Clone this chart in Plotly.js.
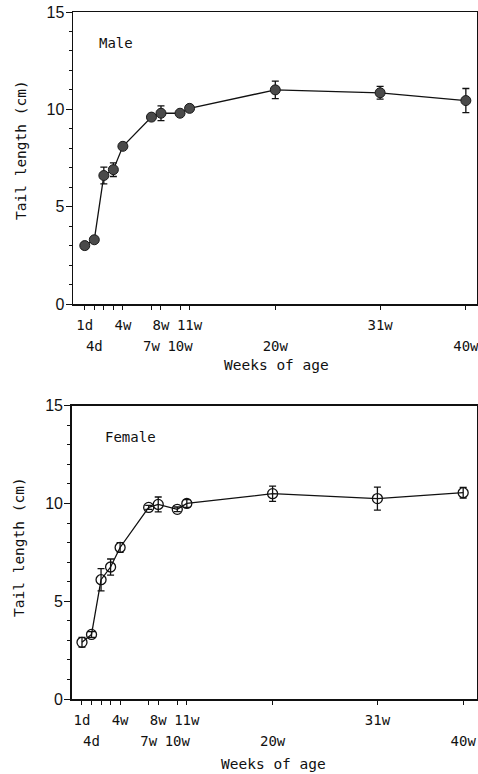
<!DOCTYPE html>
<html>
<head>
<meta charset="utf-8">
<script src="https://cdn.plot.ly/plotly-3.0.1.min.js"></script>
<style>html,body{margin:0;padding:0;background:#fff;}#chart{width:478px;height:774px;}</style>
</head>
<body>
<div id="chart"></div>
<script>
// ---- data ----
const ageLabels = ["1d","4d","2w","3w","4w","7w","8w","10w","11w","20w","31w","40w"];
const ageWeeks  = [0, 1, 2, 3, 4, 7, 8, 10, 11, 20, 31, 40];   // position on the week axis
const labelRow  = [1, 2, 0, 0, 1, 2, 1, 2, 1, 2, 1, 2];          // 0 = no label, 1 = upper row, 2 = lower row
const maleTail   = [3.0, 3.3, 6.6, 6.9, 8.1, 9.6, 9.8, 9.8, 10.05, 11.0, 10.85, 10.45];
const maleErr    = [0.1, 0.1, 0.43, 0.35, 0.12, 0.1, 0.38, 0.1, 0.15, 0.45, 0.33, 0.62];
const femaleTail = [2.9, 3.3, 6.1, 6.75, 7.75, 9.8, 9.95, 9.7, 10.0, 10.5, 10.25, 10.55];
const femaleErr  = [0.25, 0.15, 0.57, 0.41, 0.25, 0.1, 0.38, 0.12, 0.2, 0.39, 0.59, 0.27];
const yTicks = [0, 5, 10, 15];

const mono = "DejaVu Sans Mono";
const sans = "Liberation Sans";

const upperText = ageLabels.map((l, i) => labelRow[i] === 1 ? l : "");
const lowerText = ageLabels.map((l, i) => labelRow[i] === 2 ? l : "");

const W = 478, H = 774;
function fx(px) { return px / W; }
function fy(px) { return (H - px) / H; }

function series(y, err, xa, ya, marker) {
  return {
    x: ageWeeks, y: y, xaxis: xa, yaxis: ya, type: 'scatter', mode: 'lines+markers',
    line: {color: '#111', width: 1.3},
    marker: marker,
    error_y: {type: 'data', array: err, visible: true, color: '#111', thickness: 1.3, width: 3.5},
    cliponaxis: false, hoverinfo: 'skip'
  };
}
// carrier traces (draw nothing) so the lower tick-label row axes exist
function carrier(y, xa, ya) {
  return {x: ageWeeks, y: y, xaxis: xa, yaxis: ya, type: 'scatter', mode: 'none', hoverinfo: 'skip', showlegend: false};
}

const traces = [
  series(maleTail, maleErr, 'x', 'y',
    {symbol: 'circle', size: 10, color: '#4a4a4a', line: {color: '#1a1a1a', width: 1}}),
  series(femaleTail, femaleErr, 'x2', 'y2',
    {symbol: 'circle-open', size: 10, color: '#111', line: {color: '#111', width: 1.3}}),
  carrier(maleTail, 'x3', 'y'),
  carrier(femaleTail, 'x4', 'y2')
];

const tickFont = {family: mono, size: 14, color: '#111'};
const titleFont = {family: mono, size: 14.5, color: '#111'};

function xAxisMain(domain, range, anchor) {
  return {
    domain: domain, range: range, anchor: anchor,
    tickmode: 'array', tickvals: ageWeeks, ticktext: upperText,
    ticks: 'outside', ticklen: 4, tickwidth: 1, tickcolor: '#111',
    showline: true, linecolor: '#111', linewidth: 1.5, mirror: true,
    showgrid: false, zeroline: false,
    tickfont: tickFont, ticklabelstandoff: 4, ticklabeloverflow: 'allow'
  };
}
function xAxisLower(domain, range, anchor, overlay) {
  return {
    domain: domain, range: range, anchor: anchor, overlaying: overlay,
    tickmode: 'array', tickvals: ageWeeks, ticktext: lowerText,
    ticks: '', showline: false, showgrid: false, zeroline: false,
    tickfont: tickFont, ticklabelstandoff: 32, ticklabeloverflow: 'allow'
  };
}
function yAxis(domain, anchor) {
  return {
    domain: domain, range: [0, 15], anchor: anchor,
    tickmode: 'array', tickvals: yTicks,
    ticks: 'outside', ticklen: 6, tickwidth: 1, tickcolor: '#111',
    minor: {dtick: 1, ticks: 'outside', ticklen: 3, tickwidth: 1, tickcolor: '#111', showgrid: false},
    showline: true, linecolor: '#111', linewidth: 1.5, mirror: true,
    showgrid: false, zeroline: false,
    tickfont: {family: sans, size: 16, color: '#111'}, ticklabelstandoff: -2
  };
}

function label(text, xp, yp, angle) {
  return {text: text, textangle: angle || 0, xref: 'paper', yref: 'paper', x: fx(xp), y: fy(yp),
          xanchor: 'center', yanchor: 'middle', showarrow: false, font: titleFont};
}

const layout = {
  width: W, height: H,
  margin: {l: 0, r: 0, t: 0, b: 0},
  paper_bgcolor: '#fff', plot_bgcolor: '#fff',
  showlegend: false,
  xaxis:  xAxisMain([fx(73), fx(477)], [-1.236, 41.17], 'y'),
  xaxis3: xAxisLower([fx(73), fx(477)], [-1.236, 41.17], 'y', 'x'),
  yaxis:  yAxis([fy(304), fy(12)], 'x'),
  xaxis2: xAxisMain([fx(71.7), fx(477)], [-1.08, 41.45], 'y2'),
  xaxis4: xAxisLower([fx(71.7), fx(477)], [-1.08, 41.45], 'y2', 'x2'),
  yaxis2: yAxis([fy(699), fy(405.7)], 'x2'),
  annotations: [
    {text: 'Male', xref: 'x domain', yref: 'y domain', x: 0.059, y: 0.894, xanchor: 'left', yanchor: 'middle',
     showarrow: false, font: {family: mono, size: 14, color: '#111'}},
    {text: 'Female', xref: 'x2 domain', yref: 'y2 domain', x: 0.076, y: 0.892, xanchor: 'left', yanchor: 'middle',
     showarrow: false, font: {family: mono, size: 14, color: '#111'}},
    label('Tail length (cm)', 21, 150, -90),
    label('Tail length (cm)', 19, 547, -90),
    label('Weeks of age', 276, 365),
    label('Weeks of age', 273, 764)
  ]
};

Plotly.newPlot('chart', traces, layout, {displayModeBar: false, staticPlot: true});
</script>
</body>
</html>
